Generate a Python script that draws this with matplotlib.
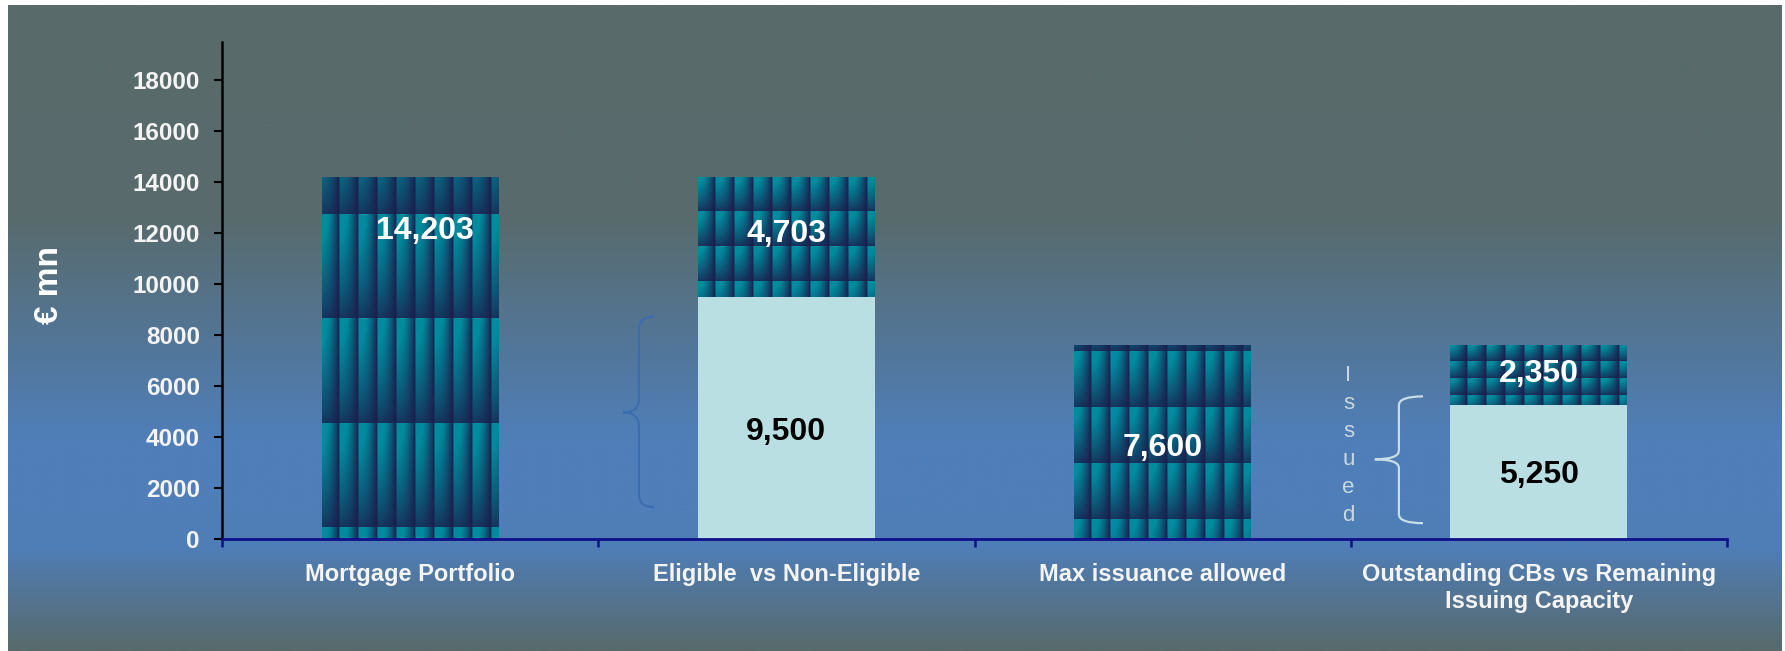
import numpy as np
import matplotlib
matplotlib.use("Agg")
import matplotlib.pyplot as plt
from matplotlib.colors import LinearSegmentedColormap
from matplotlib.path import Path
from matplotlib.patches import PathPatch

plt.rcParams['font.family'] = ['Liberation Sans', 'DejaVu Sans']

# data
categories = ['Mortgage Portfolio', 'Eligible  vs Non-Eligible', 'Max issuance allowed',
              'Outstanding CBs vs Remaining\nIssuing Capacity']
base_vals = [0, 9500, 0, 5250]          # light part (eligible / issued)
top_vals = [14203, 4703, 7600, 2350]    # patterned part
base_labels = ['', '9,500', '', '5,250']
top_labels = ['14,203', '4,703', '7,600', '2,350']
y_ticks = [0, 2000, 4000, 6000, 8000, 10000, 12000, 14000, 16000, 18000]

# style
tile_h = [104, 35, 56, 17]   # pattern row height per bar (px)
tile_off = [12, 16, 20, 10]
tile_w = 19
base_lab_pos = [0.5, 0.44, 0.5, 0.48]    # label height as share of segment
top_lab_pos = [0.85, 0.52, 0.47, 0.51]
teal = np.array([0, 140, 158]) / 255
navy = np.array([27, 29, 76]) / 255
light = '#b9dfe2'

fig = plt.figure(figsize=(17.85, 6.51), dpi=100, facecolor='white')

# gradient background panel
bg = fig.add_axes([8 / 1785, 0, 1773 / 1785, 646 / 651], zorder=0)
bg.axis('off')
bg_cmap = LinearSegmentedColormap.from_list('bg', [
    (0.0, '#586a69'), (0.33, '#586b6d'), (0.68, '#4f7fba'),
    (0.84, '#4f7eb7'), (1.0, '#586a6c')])
bg.imshow(np.linspace(0, 1, 400).reshape(-1, 1), aspect='auto', cmap=bg_cmap,
          extent=(0, 1, 0, 1), interpolation='bilinear')
bg.set_xlim(0, 1)
bg.set_ylim(0, 1)

ax = fig.add_axes([222 / 1785, 112 / 651, 1505 / 1785, 497.5 / 651], zorder=1)
ax.set_facecolor('none')
ax.set_xlim(-0.5, 3.5)
ax.set_ylim(0, 19500)

x = np.arange(len(categories))
bw = 0.47
ax.bar(x, base_vals, width=bw, color=light, zorder=2)
top_bars = ax.bar(x, top_vals, bottom=base_vals, width=bw, color='none', zorder=2)


def texture(h, w, th, yoff):
    yy, xx = np.mgrid[0:h, 0:w]
    yb = h - 1 - yy
    fy = ((yb - yoff) % th) / th
    fx = ((xx + 2) % tile_w) / tile_w
    bx = 1 - fx ** 2
    bx[((xx + 2) % tile_w) == 0] *= 0.55
    by = 0.18 + 0.82 * fy ** 0.8
    b = np.clip(bx * by * 1.2, 0, 1)
    return navy + b[..., None] * (teal - navy)


for i, bar in enumerate(top_bars):
    x0, y0 = bar.get_x(), bar.get_y()
    x1, y1 = x0 + bar.get_width(), y0 + bar.get_height()
    p0 = ax.transData.transform((x0, y0))
    p1 = ax.transData.transform((x1, y1))
    w = int(round(p1[0] - p0[0]))
    h = int(round(p1[1] - p0[1]))
    img = texture(h, w, tile_h[i], tile_off[i])
    im = ax.imshow(img, extent=(x0, x1, y0, y1), aspect='auto',
                   interpolation='nearest', zorder=2)
    im.set_clip_path(bar)

ax.set_xlim(-0.5, 3.5)
ax.set_ylim(0, 19500)
ax.set_aspect('auto')

# value labels
for i in range(len(categories)):
    if base_labels[i]:
        ax.text(x[i], base_vals[i] * base_lab_pos[i], base_labels[i], ha='center',
                va='center', fontsize=23, fontweight='bold', color='black', zorder=4)
    ty = base_vals[i] + top_vals[i] * top_lab_pos[i]
    tx = x[i] + (0.04 if i == 0 else 0)
    ax.text(tx, ty, top_labels[i], ha='center', va='center',
            fontsize=23, fontweight='bold', color='white', zorder=4)

# axes styling
for s in ['top', 'right']:
    ax.spines[s].set_visible(False)
ax.spines['left'].set_color('black')
ax.spines['left'].set_linewidth(1.8)
ax.spines['bottom'].set_color('#10108a')
ax.spines['bottom'].set_linewidth(2)
ax.set_yticks(y_ticks)
ax.set_yticklabels([str(v) for v in y_ticks])
ax.tick_params(axis='y', direction='out', length=6, width=1.5, color='black',
               labelsize=17.5, labelcolor='#f4f4f4', pad=10)
for lab in ax.get_yticklabels():
    lab.set_fontweight('bold')
ax.set_xticks(x)
ax.set_xticklabels(categories, fontsize=17, fontweight='bold', color='#f4f4f4',
                   linespacing=1.25)
ax.tick_params(axis='x', which='major', length=0, pad=17)
ax.set_xticks(np.arange(-0.5, 4, 1), minor=True)
ax.tick_params(axis='x', which='minor', direction='out', length=6, width=1.8,
               color='#10108a')

ax.set_ylabel('€ mn', fontsize=24, fontweight='bold', color='white')
ax.yaxis.set_label_coords(-0.104, 0.51)


def brace(x_tip, x_mid, x_end, y_bot, y_tip, y_top, color, lw):
    r = (y_top - y_bot) * 0.07
    verts = [(x_end, y_top), (x_mid, y_top), (x_mid, y_top - r),
             (x_mid, y_tip + r), (x_mid, y_tip), (x_tip, y_tip),
             (x_mid, y_tip), (x_mid, y_tip - r),
             (x_mid, y_bot + r), (x_mid, y_bot), (x_end, y_bot)]
    codes = [Path.MOVETO, Path.CURVE3, Path.CURVE3, Path.LINETO,
             Path.CURVE3, Path.CURVE3, Path.CURVE3, Path.CURVE3,
             Path.LINETO, Path.CURVE3, Path.CURVE3]
    ax.add_patch(PathPatch(Path(verts, codes), fill=False, edgecolor=color,
                           lw=lw, zorder=3, clip_on=False))


brace(0.566, 0.608, 0.648, 1250, 4960, 8720, '#3c6cb0', 1.5)
brace(2.564, 2.628, 2.692, 620, 3124, 5590, '#c9dde4', 1.6)

for k, ch in enumerate('Issued'):
    ax.text(2.494, 6411 - k * 1096, ch, ha='center', va='center',
            fontsize=16, color='#c8d8e0', zorder=4)

fig.savefig('out.png', dpi=100, facecolor=fig.get_facecolor())
